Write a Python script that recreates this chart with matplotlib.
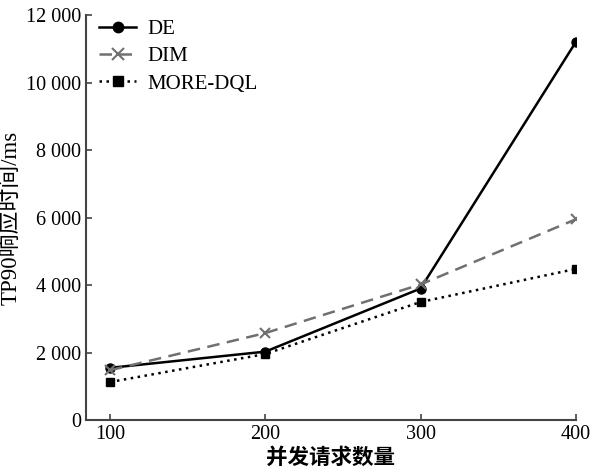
import matplotlib
matplotlib.use("Agg")
import matplotlib.pyplot as plt
from matplotlib.ticker import FuncFormatter

concurrency = [100, 200, 300, 400]
de = [1550, 2030, 3900, 11200]
dim = [1480, 2580, 4020, 5950]
more_dql = [1130, 1960, 3500, 4480]
series_names = ["DE", "DIM", "MORE-DQL"]
x_label = "并发请求数量"
y_label = "TP90响应时间/ms"

plt.rcParams['font.family'] = ['Liberation Serif', 'Noto Sans CJK SC']

fig = plt.figure(figsize=(5.93, 4.70), dpi=100)
ax = fig.add_axes([0.145, 0.106, 0.826, 0.862])

ax.plot(concurrency, de, color='black', linestyle='-', linewidth=1.8,
        marker='o', markersize=6.5, label=series_names[0])
ax.plot(concurrency, dim, color='#707070', linestyle=(0, (5, 3)), linewidth=1.8,
        marker='x', markersize=7, markeredgewidth=1.5, label=series_names[1])
ax.plot(concurrency, more_dql, color='black', linestyle=(0, (1, 1.8)), linewidth=1.8,
        marker='s', markersize=6, label=series_names[2])

ax.set_xlim(84.5, 400)
ax.set_ylim(0, 12000)
ax.set_xticks(concurrency)
ax.set_yticks([0, 2000, 4000, 6000, 8000, 10000, 12000])
ax.yaxis.set_major_formatter(FuncFormatter(lambda v, p: f"{int(v):,}".replace(",", " ")))

for s in ['top', 'right']:
    ax.spines[s].set_visible(False)
for s in ['left', 'bottom']:
    ax.spines[s].set_color('#444444')
    ax.spines[s].set_linewidth(1.5)

ax.tick_params(direction='in', length=4, width=1.2, colors='#444444',
               labelcolor='black', labelsize=14.5)

ax.set_xlabel(x_label, fontsize=15.5, family=['Noto Sans CJK SC'], fontweight='bold', labelpad=2)
ax.set_ylabel(y_label, fontsize=16.5, labelpad=3)

ax.legend(loc='upper left', frameon=False, fontsize=15, handlelength=1.8,
          handletextpad=0.55, bbox_to_anchor=(-0.012, 1.035), labelspacing=0.37,
          markerscale=1.15)

fig.savefig("out.png", dpi=100)
